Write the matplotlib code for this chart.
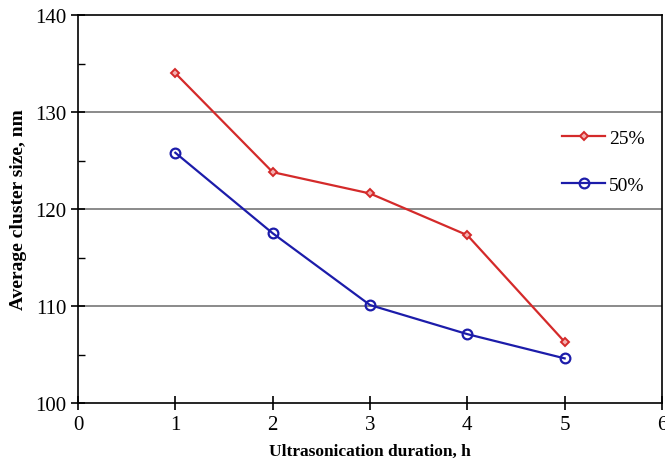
import matplotlib.pyplot as plt
from matplotlib.ticker import MultipleLocator

plt.rcParams['font.family'] = ['Liberation Serif', 'DejaVu Serif']

duration = [1, 2, 3, 4, 5]
size_25 = [134.0, 123.8, 121.6, 117.3, 106.3]
size_50 = [125.8, 117.5, 110.1, 107.1, 104.6]

fig = plt.figure(figsize=(6.65, 4.64), dpi=100)
ax = fig.add_axes([78 / 665, 60 / 464, 584 / 665, 388 / 464])

for y in [110, 120, 130]:
    ax.axhline(y, color='#8a8a8a', lw=1.4, zorder=1)

ax.plot(duration, size_25, color='#d42a2a', lw=1.6, marker='D', ms=4.5,
        mfc='#f4b0b0', mec='#d42a2a', mew=1.4, label='25%', zorder=3)
ax.plot(duration, size_50, color='#1c1caa', lw=1.6, marker='o', ms=7,
        mfc='none', mec='#1c1caa', mew=1.6, label='50%', zorder=3)

ax.set_xlim(0, 6)
ax.set_ylim(100, 140)
ax.xaxis.set_major_locator(MultipleLocator(1))
ax.yaxis.set_major_locator(MultipleLocator(10))
ax.yaxis.set_minor_locator(MultipleLocator(5))
ax.tick_params(which='major', direction='inout', length=10, width=1.2, labelsize=15)
ax.tick_params(axis='y', which='minor', direction='in', length=5, width=1)
ax.tick_params(axis='x', pad=4)
for s in ax.spines.values():
    s.set_linewidth(1.2)

ax.set_xlabel('Ultrasonication duration, h', fontsize=12.5, fontweight='bold', labelpad=6)
ax.set_ylabel('Average cluster size, nm', fontsize=14, fontweight='bold', labelpad=6)

ax.legend(loc='upper right', bbox_to_anchor=(1.0, 0.75), frameon=False,
          fontsize=14, handlelength=2.2, labelspacing=1.5, handletextpad=0.2)

fig.savefig('out.png', dpi=100)
